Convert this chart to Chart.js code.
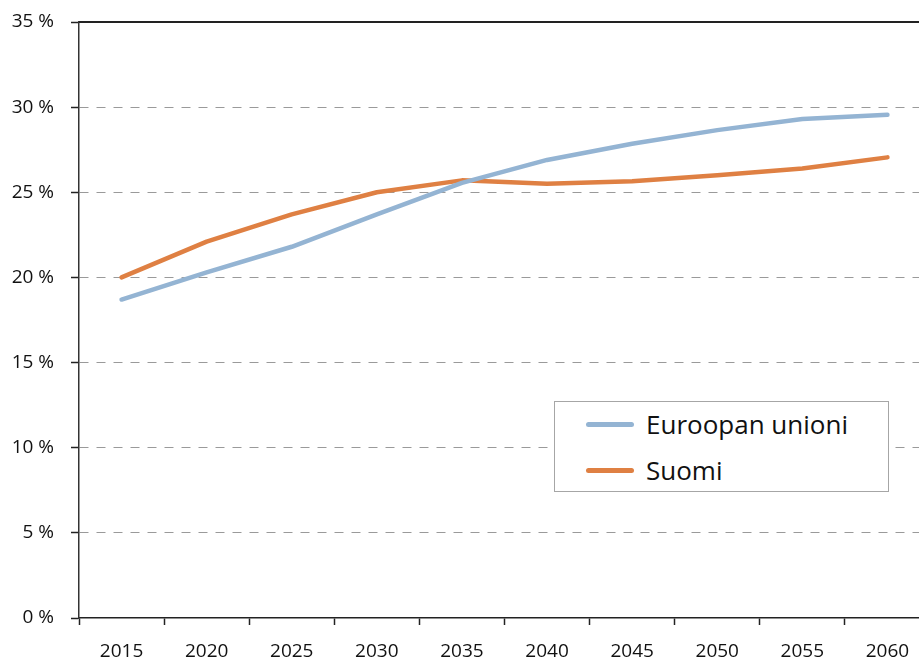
<!DOCTYPE html>
<html>
<head>
<meta charset="utf-8">
<script src="https://cdn.jsdelivr.net/npm/chart.js@4"></script>
<style>
  html, body { margin: 0; padding: 0; background: #fff; overflow: hidden; }
  #wrap { position: relative; width: 930px; height: 662px; }
  #legend {
    position: absolute; left: 554px; top: 401px; width: 335px; height: 91px;
    border: 1px solid #a6a6a6; background: #fff; box-sizing: border-box;
    font-family: "Open Sans", sans-serif; font-size: 26px; color: #111;
  }
  #legend .row { position: absolute; left: 31px; height: 30px; display: flex; align-items: center; }
  #legend .swatch { width: 48px; height: 5px; border-radius: 3px; margin-right: 12px; }
</style>
</head>
<body>
<div id="wrap">
  <canvas id="chart" width="930" height="662"></canvas>
  <div id="legend"></div>
</div>
<script>
// vuodet
const years = ['2015', '2020', '2025', '2030', '2035', '2040', '2045', '2050', '2055', '2060'];
// osuus, %
const euValues = [18.7, 20.3, 21.8, 23.7, 25.55, 26.9, 27.85, 28.65, 29.3, 29.55];
const suomiValues = [20.0, 22.1, 23.7, 25.0, 25.7, 25.5, 25.65, 26.0, 26.4, 27.05];
const yTicks = [0, 5, 10, 15, 20, 25, 30, 35];

const euColor = '#94b4d3';
const suomiColor = '#df8043';
const font = { family: '"Open Sans", sans-serif', size: 19 };

const datasets = [
    { label: 'Euroopan unioni', data: euValues, borderColor: euColor },
    { label: 'Suomi', data: suomiValues, borderColor: suomiColor }
].map(function (d) {
    return Object.assign(d, {
        borderWidth: 4.5,
        pointRadius: 0,
        tension: 0,
        fill: false,
        borderCapStyle: 'round',
        borderJoinStyle: 'round'
    });
});

// yläreunan yhtenäinen viiva (35 %)
const topLine = {
    id: 'topLine',
    afterDraw: function (chart) {
        const ctx = chart.ctx;
        const area = chart.chartArea;
        const y = chart.scales.y.getPixelForValue(yTicks[yTicks.length - 1]);
        ctx.save();
        ctx.strokeStyle = '#222';
        ctx.lineWidth = 2;
        ctx.beginPath();
        ctx.moveTo(area.left, y);
        ctx.lineTo(area.right, y);
        ctx.stroke();
        ctx.restore();
    }
};

new Chart(document.getElementById('chart'), {
    type: 'line',
    data: { labels: years, datasets: datasets },
    plugins: [topLine],
    options: {
        responsive: false,
        animation: false,
        layout: { padding: { top: 22, right: 0, bottom: 0, left: 0 } },
        plugins: { legend: { display: false }, tooltip: { enabled: false } },
        scales: {
            x: {
                offset: true,
                grid: {
                    offset: true,
                    drawOnChartArea: false,
                    drawTicks: true,
                    tickLength: 7,
                    tickColor: '#222',
                    tickWidth: 1.5
                },
                border: { color: '#222', width: 1.5 },
                ticks: { color: '#111', font: font, padding: 15, maxRotation: 0 },
                afterFit: function (scale) { scale.height = 44; }
            },
            y: {
                min: 0,
                max: 35,
                afterBuildTicks: function (scale) {
                    scale.ticks = yTicks.map(function (v) { return { value: v }; });
                },
                grid: {
                    color: function (ctx) {
                        if (!ctx.tick) return '#999';
                        if (ctx.tick.value === 35 || ctx.tick.value === 0) return 'rgba(0,0,0,0)';
                        return '#9a9a9a';
                    },
                    lineWidth: 1,
                    drawTicks: true,
                    tickLength: 8,
                    tickColor: '#222',
                    tickWidth: 1.5
                },
                border: {
                    color: '#333',
                    width: 1.5,
                    dash: function (ctx) {
                        return ctx.tick ? [9, 8] : [];
                    }
                },
                ticks: {
                    color: '#111',
                    font: font,
                    padding: 17,
                    callback: function (v) { return v + ' %'; }
                },
                afterFit: function (scale) {
                    scale.width = 79;
                    scale.paddingTop = 0;
                    scale.paddingBottom = 0;
                }
            }
        }
    }
});

// legenda HTML:nä
const legend = document.getElementById('legend');
datasets.forEach(function (d, i) {
    const row = document.createElement('div');
    row.className = 'row';
    row.style.top = (7 + i * 46) + 'px';
    row.innerHTML = '<span class="swatch" style="background:' + d.borderColor + '"></span>' + d.label;
    legend.appendChild(row);
});
</script>
</body>
</html>
